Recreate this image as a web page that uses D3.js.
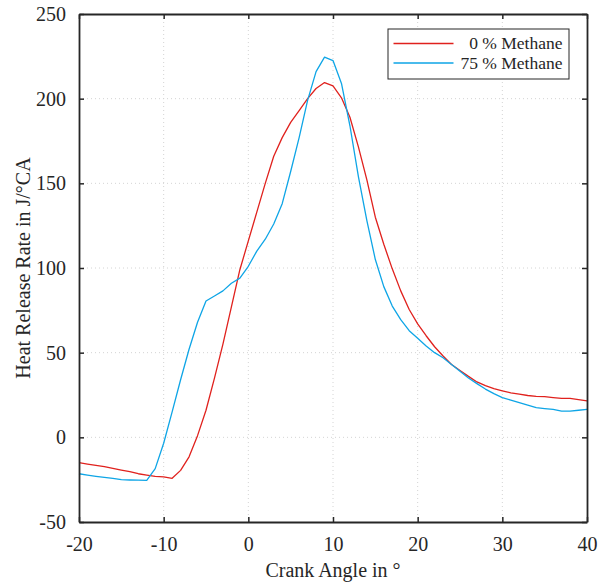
<!DOCTYPE html>
<html>
<head>
<meta charset="utf-8">
<script src="https://cdn.jsdelivr.net/npm/d3@7"></script>
<style>
  body { margin: 0; background: #fff; }
  text { font-family: "Liberation Serif", "Times New Roman", serif; fill: #262626; }
</style>
</head>
<body>
<div id="chart"></div>
<script>
// crank angle in degrees, one sample per degree
const angles = d3.range(-20, 41);

const methane0 = [
  -15, -15.8, -16.5, -17.3, -18.3, -19.3, -20.3, -21.5, -22.3, -23,
  -23.4, -24.2, -19.5, -11.5, 1, 16, 35, 55, 77, 99,
  116, 133, 150, 166, 177, 186, 193, 200, 206, 209.5,
  207.5, 200.5, 189, 171.5, 152, 130, 114, 99.5, 86.5, 75.5,
  67, 60, 53.5, 48, 43, 39.5, 36, 32.7, 30.5, 28.8,
  27.5, 26.3, 25.5, 24.7, 24.2, 24, 23.5, 23, 23, 22.3,
  21.5
];

const methane75 = [
  -21.5, -22.3, -23, -23.6, -24.3, -25, -25.2, -25.3, -25.4, -18.5,
  -3.5, 15, 34, 52, 68, 80.5, 83.5, 86.5, 91, 94,
  101, 110, 117, 126, 138, 157, 177, 199, 216, 224.5,
  222.5, 209, 184, 154, 128, 105, 89, 77.5, 69.5, 63,
  58.5, 54, 50, 47, 43, 39, 35, 31.7, 28.5, 25.8,
  23.5, 22, 20.5, 19, 17.5, 17, 16.5, 15.5, 15.5, 16,
  16.5
];

const seriesNames = ["0 % Methane", "75 % Methane"];
const seriesColors = ["#e0211d", "#0ea5e6"];
const xTicks = [-20, -10, 0, 10, 20, 30, 40];
const yTicks = [-50, 0, 50, 100, 150, 200, 250];

const width = 606, height = 582;
const margin = { top: 14, right: 19, bottom: 60, left: 79 };
const innerW = width - margin.left - margin.right;
const innerH = height - margin.top - margin.bottom;

const svg = d3.select("#chart").append("svg")
  .attr("width", width)
  .attr("height", height);

const g = svg.append("g")
  .attr("transform", `translate(${margin.left},${margin.top})`);

const x = d3.scaleLinear().domain([-20, 40]).range([0, innerW]);
const y = d3.scaleLinear().domain([-50, 250]).range([innerH, 0]);

// dotted grid
g.append("g").selectAll("line")
  .data(xTicks.slice(1, -1))
  .join("line")
  .attr("x1", d => x(d)).attr("x2", d => x(d))
  .attr("y1", 0).attr("y2", innerH)
  .attr("stroke", "#d4d4d4").attr("stroke-width", 1)
  .attr("stroke-dasharray", "1,3");

g.append("g").selectAll("line")
  .data(yTicks.slice(1, -1))
  .join("line")
  .attr("x1", 0).attr("x2", innerW)
  .attr("y1", d => y(d)).attr("y2", d => y(d))
  .attr("stroke", "#d4d4d4").attr("stroke-width", 1)
  .attr("stroke-dasharray", "1,3");

// curves
const line = d3.line()
  .x((d, i) => x(angles[i]))
  .y(d => y(d));

[methane0, methane75].forEach((s, k) => {
  g.append("path")
    .datum(s)
    .attr("fill", "none")
    .attr("stroke", seriesColors[k])
    .attr("stroke-width", 1.3)
    .attr("stroke-linejoin", "round")
    .attr("d", line);
});

// axes with inward ticks, MATLAB style box
const tickLen = 5;
const plain = d => String(d);  // keep the ascii hyphen like the original
const xBottom = d3.axisBottom(x).tickValues(xTicks).tickFormat(plain).tickSizeInner(-tickLen).tickSizeOuter(0).tickPadding(15);
const yLeft = d3.axisLeft(y).tickValues(yTicks).tickFormat(plain).tickSizeInner(-tickLen).tickSizeOuter(0).tickPadding(13);
const xTop = d3.axisTop(x).tickValues(xTicks).tickSizeInner(-tickLen).tickSizeOuter(0).tickFormat("");
const yRight = d3.axisRight(y).tickValues(yTicks).tickSizeInner(-tickLen).tickSizeOuter(0).tickFormat("");

function styleAxis(sel) {
  sel.selectAll("path").attr("stroke", "#262626").attr("stroke-width", 1.8);
  sel.selectAll("line").attr("stroke", "#262626").attr("stroke-width", 1.5);
  sel.selectAll("text")
    .style("font-family", "'Liberation Serif', serif")
    .style("font-size", "20px")
    .attr("fill", "#262626");
}

g.append("g").attr("transform", `translate(0,${innerH})`).call(xBottom).call(styleAxis);
g.append("g").call(yLeft).call(styleAxis);
g.append("g").call(xTop).call(styleAxis);
g.append("g").attr("transform", `translate(${innerW},0)`).call(yRight).call(styleAxis);

// axis titles
svg.append("text")
  .attr("x", margin.left + innerW / 2)
  .attr("y", 577)
  .attr("text-anchor", "middle")
  .style("font-size", "20px")
  .text("Crank Angle in °");

svg.append("text")
  .attr("transform", `translate(30,${margin.top + innerH / 2}) rotate(-90)`)
  .attr("text-anchor", "middle")
  .style("font-size", "20px")
  .text("Heat Release Rate in J/°CA");

// legend
const legend = svg.append("g").attr("transform", "translate(388,29)");
legend.append("rect")
  .attr("width", 181).attr("height", 50)
  .attr("fill", "#fff")
  .attr("stroke", "#262626").attr("stroke-width", 1);

seriesNames.forEach((name, k) => {
  const ly = 14.5 + k * 19.5;
  legend.append("line")
    .attr("x1", 5.5).attr("x2", 65.5)
    .attr("y1", ly).attr("y2", ly)
    .attr("stroke", seriesColors[k]).attr("stroke-width", 1.3);
  legend.append("text")
    .attr("x", 174.5).attr("y", ly)
    .attr("dy", "0.34em")
    .attr("text-anchor", "end")
    .style("font-size", "17.5px")
    .text(name);
});
</script>
</body>
</html>
